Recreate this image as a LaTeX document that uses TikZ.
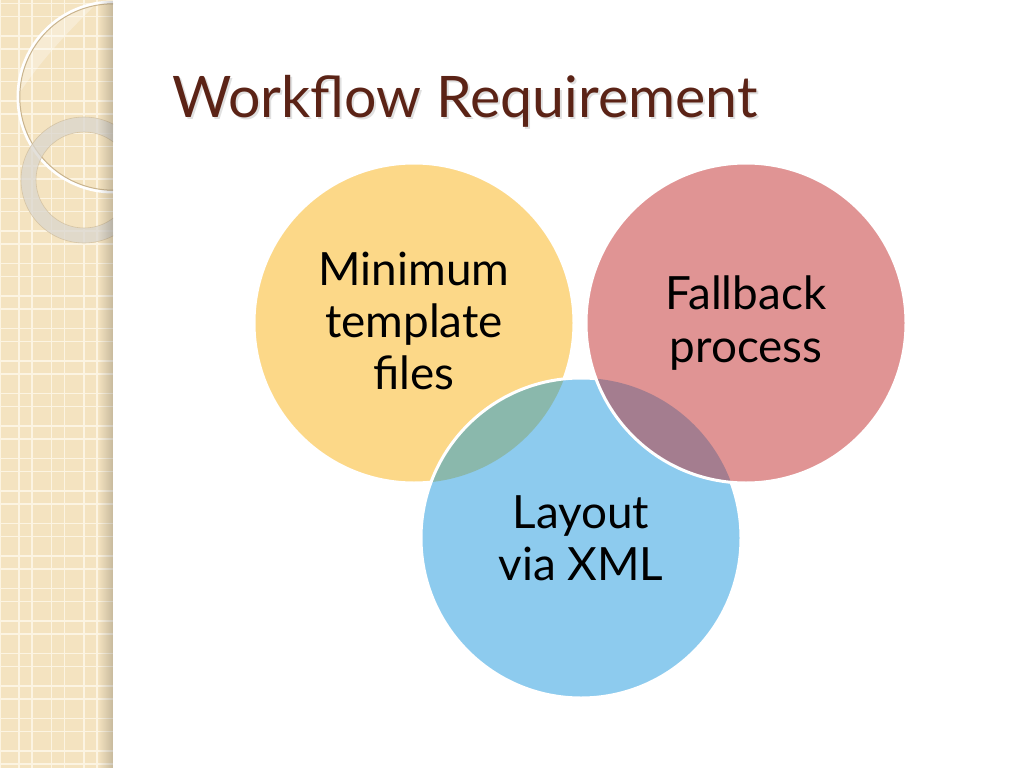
\documentclass[tikz,border=0pt]{standalone}
\usepackage{fontspec}
\setmainfont{Lato}
\usetikzlibrary{fadings}
\definecolor{stripcol}{HTML}{F4E3C0}
\definecolor{gridcol}{HTML}{FCF4E2}
\definecolor{tancol}{HTML}{C9B48E}
\definecolor{ringcol}{HTML}{DAD6CE}
\definecolor{yel}{HTML}{FCD888}
\definecolor{blu}{HTML}{8DCBEE}
\definecolor{grn}{HTML}{8AB8AC}
\definecolor{pnk}{HTML}{E09494}
\definecolor{pur}{HTML}{A47D8F}
\definecolor{titlebrown}{HTML}{5B2316}
\tikzset{
  gridline/.style={draw=gridcol, line width=1.3bp},
  rim/.style={draw=white, line width=3bp},
  lbl/.style={align=center, text=black, font=\fontsize{46}{52.5}\selectfont, inner sep=0pt},
  titletext/.style={anchor=base west, font=\fontsize{57.5}{62}\selectfont, inner sep=0pt}
}
\begin{document}
\begin{tikzpicture}[x=1bp,y=-1bp]
\useasboundingbox (0,0) rectangle (1024,768);
\fill[white] (0,0) rectangle (1024,768);
% left strip
\fill[stripcol] (0,0) rectangle (113,768);
\foreach \gx in {0,19,32,51.5,64.5,84,97}
  \draw[gridline] (\gx,0) -- (\gx,768);
\foreach \k in {0,...,23}{
  \draw[gridline] (0,3.5+32.5*\k) -- (113,3.5+32.5*\k);
  \draw[gridline] (0,16.5+32.5*\k) -- (113,16.5+32.5*\k);
}
\begin{scope}
  \clip (0,0) rectangle (113,768);
  \coordinate (bigc) at (113,97);
  \coordinate (ringc) at (84,180);
  \begin{scope}
    \clip (bigc) circle[radius=95bp];
    \fill[white, opacity=0.3] (0,0) -- (100,0) .. controls (70,30) and (40,60) .. (15,100) -- (0,100) -- cycle;
  \end{scope}
  \draw[white, line width=3bp] (bigc) circle[radius=95bp];
  \draw[tancol, line width=1bp] (bigc) circle[radius=93.2bp];
  \fill[ringcol, opacity=0.75, even odd rule] (ringc) circle[radius=63bp] (ringc) circle[radius=48bp];
  \draw[tancol, line width=0.6bp, opacity=0.6] (ringc) circle[radius=63bp];
  \draw[tancol, line width=0.6bp, opacity=0.6] (ringc) circle[radius=48bp];
\end{scope}
\fill[black, opacity=0.18, path fading=west] (98,0) rectangle (113,768);
% title
\node[titletext, text=black, opacity=0.12] (titleshadow) at (174,119) {Workflow Requirement};
\node[titletext, text=titlebrown] (title) at (172,117) {Workflow Requirement};
% circles
\coordinate (cy) at (414,323);
\coordinate (cr) at (746,323);
\coordinate (cb) at (581,538);
\fill[yel] (cy) circle[radius=160bp];
\draw[rim] (cy) circle[radius=160bp];
\fill[blu] (cb) circle[radius=160bp];
\begin{scope}
  \clip (cy) circle[radius=160bp];
  \fill[grn] (cb) circle[radius=160bp];
\end{scope}
\draw[rim] (cb) circle[radius=160bp];
\fill[pnk] (cr) circle[radius=160bp];
\begin{scope}
  \clip (cb) circle[radius=160bp];
  \fill[pur] (cr) circle[radius=160bp];
\end{scope}
\draw[rim] (cr) circle[radius=160bp];
% labels
\node[lbl] (t1) at (414,321) {Minimum\\template\\files};
\node[lbl] (t2) at (746,323) {Fallback\\process};
\node[lbl] (t3) at (581,538) {Layout\\via XML};
\end{tikzpicture}
\end{document}
